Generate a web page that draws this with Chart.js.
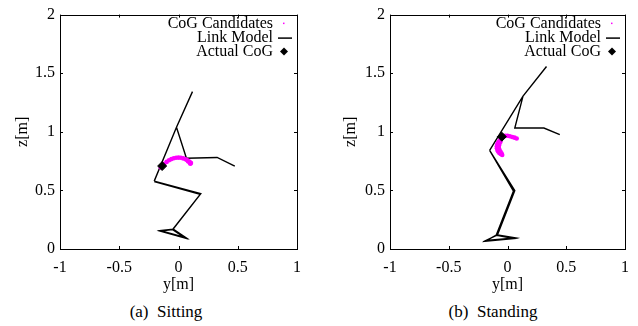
<!DOCTYPE html>
<html lang="en">
<head>
<meta charset="UTF-8" />
<title>CoG estimation</title>
<script src="https://cdn.jsdelivr.net/npm/chart.js"></script>
<style>
  body {
    margin: 0;
    background: #fff;
    width: 638px;
    height: 326px;
    position: relative;
    overflow: hidden;
    font-family: 'Liberation Serif', 'Times New Roman', serif;
  }
  .panel {
    position: absolute;
    top: 0;
    width: 319px;
    height: 300px;
  }
  .caption {
    position: absolute;
    top: 302px;
    font-size: 17px;
    color: #000;
    transform: translateX(-50%);
    white-space: nowrap;
  }
</style>
</head>
<body>

<div class="panel" style="left:0"><canvas id="sitting"></canvas></div>
<div class="panel" style="left:319px"><canvas id="standing"></canvas></div>
<div class="caption" style="left:166px">(a)&nbsp; Sitting</div>
<div class="caption" style="left:493px">(b)&nbsp; Standing</div>

<script>
// axis ticks
const xTicks = [-1, -0.5, 0, 0.5, 1];
const zTicks = [0, 0.5, 1, 1.5, 2];

// ---- sitting: [y, z] in metres ----
const sitHeadTorso = [[0.118, 1.343], [-0.017, 1.039], [-0.205, 0.579]];
const sitArm = [[-0.017, 1.039], [0.067, 0.775], [0.326, 0.781], [0.475, 0.708]];
const sitLegA = [[-0.205, 0.579], [0.188, 0.472], [-0.045, 0.169], [0.062, 0.096], [-0.152, 0.157], [-0.045, 0.169]];
const sitLegB = [[-0.205, 0.575], [0.183, 0.466], [-0.050, 0.165], [0.058, 0.092], [-0.156, 0.153], [-0.050, 0.165]];
const sitCandidates = [[-0.150, 0.695], [-0.135, 0.712], [-0.120, 0.727], [-0.100, 0.743], [-0.080, 0.757],
  [-0.060, 0.767], [-0.040, 0.774], [-0.020, 0.778], [0.000, 0.780], [0.020, 0.778], [0.040, 0.773],
  [0.060, 0.765], [0.075, 0.757], [0.090, 0.747], [0.100, 0.738], [0.105, 0.733],
  [0.080, 0.748], [0.095, 0.735], [0.100, 0.728]];
const sitCoG = [[-0.138, 0.708]];

// ---- standing ----
const stdHeadTorso = [[0.332, 1.557], [0.132, 1.304], [-0.152, 0.842]];
const stdArm = [[0.132, 1.304], [0.062, 1.032], [0.310, 1.032], [0.445, 0.976]];
const stdLegA = [[-0.152, 0.842], [0.062, 0.499], [-0.085, 0.121], [0.065, 0.095], [-0.183, 0.073], [-0.085, 0.121]];
const stdLegB = [[-0.152, 0.842], [0.051, 0.494], [-0.096, 0.118], [0.056, 0.090], [-0.189, 0.067], [-0.096, 0.118]];
const stdCandidates = [[-0.055, 0.952], [-0.040, 0.960], [-0.020, 0.965], [0.000, 0.966], [0.020, 0.962],
  [0.040, 0.956], [0.060, 0.950], [0.078, 0.943],
  [-0.060, 0.935], [-0.072, 0.920], [-0.082, 0.905], [-0.088, 0.890], [-0.091, 0.875], [-0.090, 0.860],
  [-0.086, 0.845], [-0.080, 0.832], [-0.070, 0.820], [-0.058, 0.810], [-0.045, 0.803],
  [-0.060, 0.915], [-0.068, 0.900], [-0.073, 0.885], [-0.074, 0.870], [-0.072, 0.855],
  [-0.066, 0.840], [-0.058, 0.828], [-0.050, 0.815]];
const stdCoG = [[-0.048, 0.958]];

const serif = "'Liberation Serif', 'Times New Roman', serif";

function pts(arr) {
  return arr.map(p => ({ x: p[0], y: p[1] }));
}

function linkData(parts) {
  let out = [];
  parts.forEach((part, i) => {
    if (i > 0) out.push({ x: null, y: null });
    out = out.concat(pts(part));
  });
  return out;
}

// gnuplot-like frame, inward ticks and key
const framePlugin = {
  id: 'frame',
  afterDraw(chart) {
    const { ctx, chartArea: a, scales } = chart;
    ctx.save();
    ctx.strokeStyle = '#000';
    ctx.lineWidth = 1;
    ctx.strokeRect(Math.round(a.left) + 0.5, Math.round(a.top) + 0.5,
      Math.round(a.right - a.left), Math.round(a.bottom - a.top));
    ctx.beginPath();
    xTicks.forEach(v => {
      const px = Math.round(scales.x.getPixelForValue(v)) + 0.5;
      ctx.moveTo(px, a.bottom); ctx.lineTo(px, a.bottom - 3);
      ctx.moveTo(px, a.top); ctx.lineTo(px, a.top + 3);
    });
    zTicks.forEach(v => {
      const py = Math.round(scales.y.getPixelForValue(v)) + 0.5;
      ctx.moveTo(a.left, py); ctx.lineTo(a.left + 3, py);
      ctx.moveTo(a.right, py); ctx.lineTo(a.right - 3, py);
    });
    ctx.stroke();

    // key
    ctx.font = '16px ' + serif;
    ctx.fillStyle = '#000';
    ctx.textAlign = 'right';
    ctx.textBaseline = 'middle';
    const tx = a.right - 24;
    const rows = [a.top + 9, a.top + 23, a.top + 37];
    ctx.fillText('CoG Candidates', tx, rows[0]);
    ctx.fillText('Link Model', tx, rows[1]);
    ctx.fillText('Actual CoG', tx, rows[2]);
    ctx.fillStyle = '#ff00ff';
    ctx.fillRect(a.right - 14, rows[0] - 1, 1.5, 1.5);
    ctx.beginPath();
    ctx.moveTo(a.right - 19, rows[1] + 0.5);
    ctx.lineTo(a.right - 5, rows[1] + 0.5);
    ctx.strokeStyle = '#000';
    ctx.lineWidth = 1.5;
    ctx.stroke();
    ctx.fillStyle = '#000';
    const cx = a.right - 13, cy = rows[2];
    ctx.beginPath();
    ctx.moveTo(cx, cy - 4); ctx.lineTo(cx + 4, cy); ctx.lineTo(cx, cy + 4); ctx.lineTo(cx - 4, cy);
    ctx.closePath();
    ctx.fill();
    ctx.restore();
  }
};

function makeChart(id, body, arm, legA, legB, cands, cog, yWidth, rightPad, yTitlePad) {
  const ctx = document.getElementById(id).getContext('2d');
  return new Chart(ctx, {
    type: 'scatter',
    data: {
      datasets: [
        {
          label: 'Link Model',
          data: linkData([body, arm, legA, legB]),
          showLine: true,
          spanGaps: false,
          borderColor: '#000',
          borderWidth: 1.4,
          pointRadius: 0,
          order: 2
        },
        {
          label: 'CoG Candidates',
          data: pts(cands),
          backgroundColor: '#ff00ff',
          borderColor: '#ff00ff',
          pointRadius: 2.3,
          pointBorderWidth: 0,
          order: 1
        },
        {
          label: 'Actual CoG',
          data: pts(cog),
          pointStyle: 'rectRot',
          pointRadius: 4.5,
          backgroundColor: '#000',
          borderColor: '#000',
          order: 0
        }
      ]
    },
    options: {
      responsive: true,
      maintainAspectRatio: false,
      animation: false,
      layout: { padding: { top: 12, right: rightPad, left: 0, bottom: 0 } },
      plugins: {
        legend: { display: false },
        tooltip: { enabled: false }
      },
      scales: {
        x: {
          type: 'linear',
          min: -1,
          max: 1,
          afterFit(s) { s.height = 51; },
          afterBuildTicks(s) { s.ticks = xTicks.map(v => ({ value: v })); },
          grid: { display: false, drawTicks: false },
          border: { display: false },
          ticks: {
            color: '#000',
            padding: 9,
            maxRotation: 0,
            font: { family: serif, size: 16 },
            callback: v => String(v)
          },
          title: {
            display: true,
            text: 'y[m]',
            color: '#000',
            padding: { top: 0, bottom: 6 },
            font: { family: serif, size: 16 }
          }
        },
        y: {
          type: 'linear',
          min: 0,
          max: 2,
          afterFit(s) { s.width = yWidth; },
          afterBuildTicks(s) { s.ticks = zTicks.map(v => ({ value: v })); },
          grid: { display: false, drawTicks: false },
          border: { display: false },
          ticks: {
            color: '#000',
            padding: 5,
            font: { family: serif, size: 16 },
            callback: v => String(v)
          },
          title: {
            display: true,
            text: 'z[m]',
            color: '#000',
            padding: { top: yTitlePad, bottom: 0 },
            font: { family: serif, size: 16 }
          }
        }
      }
    },
    plugins: [framePlugin]
  });
}

makeChart('sitting', sitHeadTorso, sitArm, sitLegA, sitLegB, sitCandidates, sitCoG, 60, 22, 13);
makeChart('standing', stdHeadTorso, stdArm, stdLegA, stdLegB, stdCandidates, stdCoG, 71, 12, 22);
</script>
</body>
</html>
